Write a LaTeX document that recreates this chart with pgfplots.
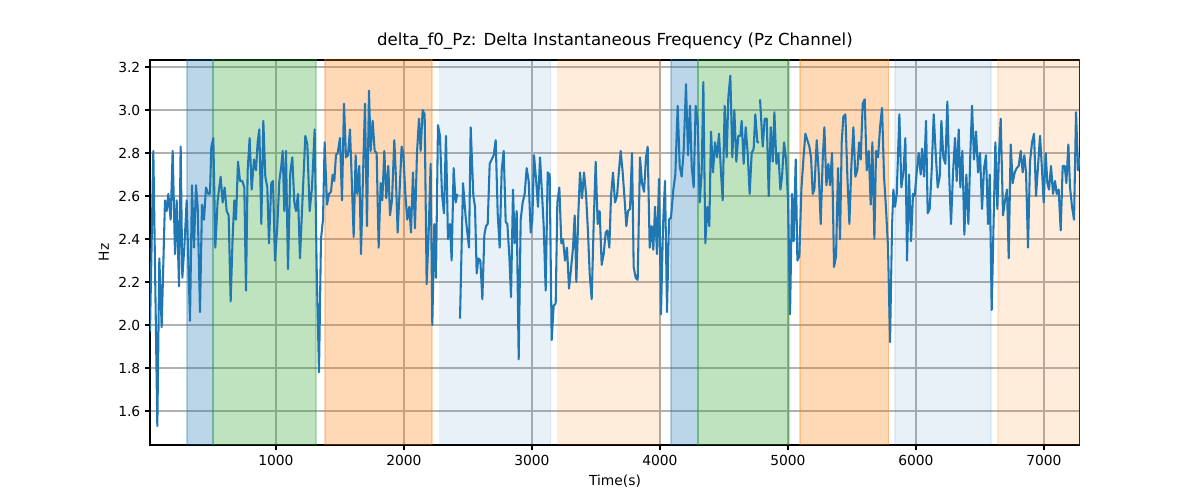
\documentclass[border=0pt]{standalone}
\usepackage{pgfplots}
\pgfplotsset{compat=1.18}
\usepackage{pgfplotstable}
\usepackage{fontspec}
\setmainfont{DejaVu Sans}
\definecolor{mblue}{HTML}{1F77B4}
\definecolor{mgreen}{HTML}{2CA02C}
\definecolor{morange}{HTML}{FF7F0E}
\pgfplotstableread{
z y
0 1.97
10 2.81
22 1.53
28 2.31
35 1.99
45 2.58
50 2.53
55 2.61
62 2.49
68 2.81
75 2.33
80 2.58
87 2.18
92 2.83
97 2.22
103 2.36
110 2.58
120 2.02
126 2.65
132 2.36
138 2.65
143 2.55
150 2.06
156 2.56
162 2.49
168 2.64
175 2.61
180 2.61
184 2.83
190 2.87
196 2.36
203 2.58
212 2.69
218 2.57
224 2.64
230 2.53
236 2.51
242 2.11
248 2.41
253 2.58
258 2.49
264 2.76
270 2.67
277 2.67
283 2.64
288 2.16
293 2.72
299 2.87
305 2.63
312 2.77
318 2.72
323 2.85
328 2.91
334 2.47
340 2.95
346 2.69
352 2.64
357 2.38
364 2.66
369 2.67
375 2.30
382 2.46
388 2.67
394 2.74
398 2.81
403 2.53
408 2.81
414 2.26
421 2.71
427 2.78
433 2.57
438 2.53
444 2.61
450 2.31
458 2.60
466 2.88
472 2.84
479 2.53
486 2.64
494 2.91
500 2.27
507 1.78
513 2.40
519 2.49
524 2.85
531 2.56
537 2.61
543 2.62
548 2.70
553 2.67
558 2.79
563 2.80
570 2.87
576 2.58
582 3.03
588 2.78
594 2.79
600 2.91
605 2.69
611 2.41
617 2.79
622 2.61
628 2.74
633 2.33
640 2.75
645 3.03
651 2.46
657 3.09
662 2.81
668 2.95
674 2.81
680 2.80
686 2.36
692 2.66
697 2.58
703 2.81
709 2.59
715 2.74
720 2.51
726 2.58
733 2.86
737 2.72
743 2.43
749 2.63
755 2.83
760 2.80
766 2.61
772 2.49
778 2.55
783 2.43
789 2.71
795 2.45
801 2.80
807 2.96
812 2.81
818 3.00
824 2.98
830 2.19
836 2.43
842 2.75
847 2.00
853 2.47
858 2.22
864 2.93
870 2.88
876 2.61
882 2.52
888 2.88
894 2.40
900 2.47
905 2.30
911 2.73
917 2.57
922 2.61
}\tA
\pgfplotstableread{
z y
15 2.03
24 2.66
32 2.50
42 2.36
47 2.92
55 2.60
60 2.55
65 2.24
70 2.31
76 2.30
82 2.12
88 2.42
93 2.46
98 2.47
104 2.75
110 2.77
116 2.79
122 2.86
128 2.52
134 2.36
140 2.72
146 2.81
152 2.48
157 2.47
163 2.32
168 2.13
174 2.63
179 2.38
185 2.53
191 1.84
197 2.49
203 2.57
209 2.61
215 2.73
221 2.67
227 2.43
232 2.49
237 2.79
243 2.68
249 2.55
255 2.78
260 2.64
266 2.46
272 2.16
278 2.71
284 2.70
290 1.93
296 2.09
302 2.10
307 2.57
313 2.64
319 2.38
324 2.40
330 2.30
336 2.36
342 2.17
348 2.26
354 2.36
359 2.51
364 2.20
370 2.52
375 2.71
381 2.59
387 2.71
393 2.61
399 2.43
404 2.24
410 2.12
416 2.47
422 2.76
428 2.47
434 2.53
440 2.28
446 2.33
452 2.43
457 2.44
463 2.36
468 2.60
474 2.71
480 2.57
486 2.60
492 2.72
497 2.81
503 2.71
509 2.58
514 2.46
519 2.53
525 2.54
531 2.80
536 2.27
542 2.22
548 2.21
555 2.78
561 2.66
567 2.62
573 2.78
578 2.83
584 2.36
590 2.46
595 2.35
600 2.55
606 2.33
612 2.68
618 2.05
624 2.46
630 2.67
636 2.06
642 2.49
648 2.50
655 2.63
661 2.70
668 3.02
674 2.74
680 2.69
686 2.81
693 3.12
699 2.79
705 3.02
710 2.74
716 2.64
722 3.02
728 2.95
734 2.57
740 2.71
745 3.13
751 2.38
757 2.55
763 2.46
768 2.90
774 2.71
780 2.85
786 2.78
792 2.89
798 2.71
803 2.58
809 3.02
815 2.78
820 3.06
826 3.16
832 2.78
838 3.00
844 2.76
850 2.88
856 2.88
860 2.95
866 2.75
872 2.92
878 2.80
884 2.61
890 2.80
896 2.82
901 2.98
907 2.85
912 2.85
}\tB
\pgfplotstableread{
z y
0 3.05
8 2.83
14 2.96
20 2.96
26 2.60
32 2.92
38 2.76
43 2.99
49 2.75
55 2.80
61 2.63
66 2.69
72 2.85
78 2.77
84 2.58
90 2.05
96 2.61
101 2.39
107 2.77
112 2.30
118 2.32
124 2.63
130 2.77
136 2.89
142 2.86
148 2.83
153 2.78
158 2.61
163 2.63
170 2.86
176 2.71
182 2.47
188 2.77
193 2.92
199 2.65
205 2.75
210 2.65
216 2.80
222 2.27
228 2.32
234 2.73
240 2.40
245 2.85
250 2.97
256 2.98
262 2.69
268 2.47
274 2.74
280 2.92
286 2.69
292 2.72
297 2.85
302 2.77
308 3.03
314 3.05
320 2.72
326 2.81
332 2.56
337 2.85
343 2.40
348 2.81
354 2.78
360 2.92
366 3.01
372 2.69
378 2.54
384 2.36
390 1.92
396 2.46
400 2.63
405 2.55
410 2.61
418 2.98
424 2.64
430 2.71
436 2.87
441 2.30
447 2.70
453 2.39
459 2.61
464 2.60
470 2.71
476 2.80
482 2.70
486 2.82
492 2.69
498 2.95
503 2.52
509 2.54
515 2.72
521 2.98
527 2.80
533 2.64
539 2.69
544 2.95
550 2.78
556 2.75
562 3.04
568 2.67
573 2.47
579 2.71
585 2.87
590 2.67
596 2.91
601 2.64
607 2.81
613 2.42
619 2.70
625 2.47
631 2.80
636 3.02
642 2.77
648 2.90
654 2.71
660 2.80
666 2.54
672 2.73
678 2.79
684 2.47
689 2.70
695 2.07
701 2.50
706 2.85
712 2.54
717 2.80
722 2.96
729 2.51
735 2.58
741 2.63
746 2.31
752 2.84
758 2.66
764 2.71
770 2.73
776 2.74
782 2.81
788 2.71
793 2.79
798 2.71
804 2.36
810 2.76
816 2.85
822 2.89
828 2.60
834 2.74
840 2.88
846 2.72
851 2.57
857 2.80
862 2.66
867 2.63
873 2.74
879 2.61
885 2.67
890 2.61
896 2.63
902 2.44
908 2.74
914 2.74
919 2.66
925 2.84
930 2.64
936 2.55
942 2.49
948 2.99
954 2.72
960 2.78
}\tC
\begin{document}
\begin{tikzpicture}
\path (-3.81cm,-1.397cm) rectangle (26.67cm,11.303cm);
\begin{axis}[
  at={(0,0)}, anchor=south west,
  scale only axis, width=23.62cm, height=9.78cm,
  xmin=16, xmax=7281, ymin=1.442, ymax=3.233,
  xtick={1000,2000,...,7000},
  ytick={1.6,1.8,...,3.21},
  xtick pos=left, ytick pos=left,
  xticklabel style={/pgf/number format/.cd,1000 sep={}},
  yticklabel style={/pgf/number format/.cd,fixed,fixed zerofill,precision=1},
  /pgf/number format/assume math mode=true,
  grid=major, grid style={color=black!31, line width=0.8pt},
  tick style={black, line width=0.8pt}, tick align=outside,
  major tick length=3.5pt,
  axis line style={line width=0.8pt},
  tick label style={font=\fontsize{10}{12}\selectfont},
  xlabel={Time(s)}, ylabel={Hz},
  label style={font=\fontsize{10}{12}\selectfont},
  title={delta\_f0\_Pz: Delta Instantaneous Frequency (Pz Channel)},
  title style={font=\fontsize{12}{14}\selectfont, yshift=-2pt},
]
\def\sp#1#2#3#4{\addplot[draw=#4, fill=#4, fill opacity=#3, draw opacity=#3, forget plot, line width=0.8pt] coordinates {(#1,1.3) (#2,1.3) (#2,3.4) (#1,3.4)} -- cycle;}
\sp{305}{508}{0.3}{mblue}
\sp{508}{1313}{0.3}{mgreen}
\sp{1383}{2219}{0.3}{morange}
\sp{2281}{3148}{0.1}{mblue}
\sp{3203}{4000}{0.15}{morange}
\sp{4086}{4297}{0.3}{mblue}
\sp{4297}{5008}{0.3}{mgreen}
\sp{5094}{5789}{0.3}{morange}
\sp{5836}{6586}{0.1}{mblue}
\sp{6641}{7281}{0.15}{morange}
\addplot[mblue, line width=1.5pt, line join=round] table[x expr={\thisrow{z}*2.604+16}, y=y]{\tA};
\addplot[mblue, line width=1.5pt, line join=round] table[x expr={\thisrow{z}*2.604+2399}, y=y]{\tB};
\addplot[mblue, line width=1.5pt, line join=round] table[x expr={\thisrow{z}*2.604+4782}, y=y]{\tC};
\end{axis}
\end{tikzpicture}
\end{document}
